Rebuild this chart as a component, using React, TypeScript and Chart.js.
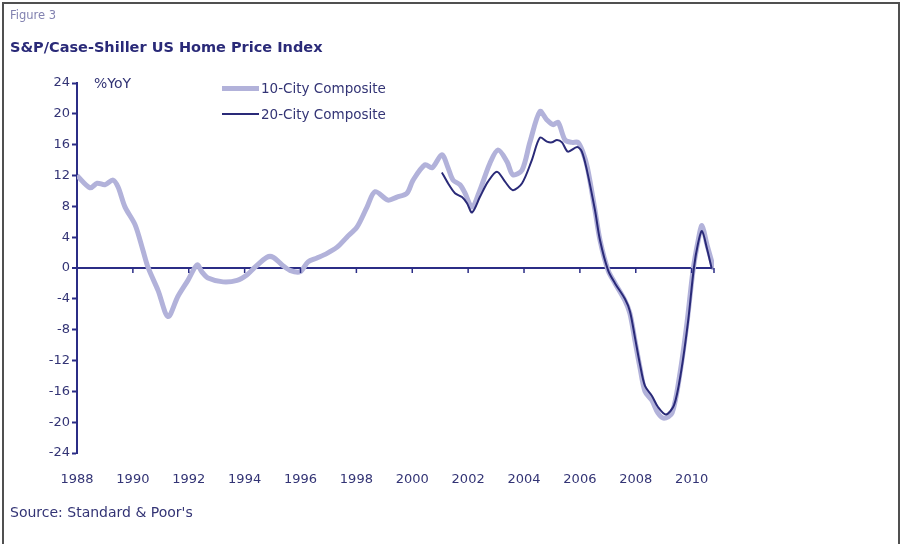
import React, { useEffect, useRef } from "react";
import { Chart, registerables } from "chart.js";

Chart.register(...registerables);

// ---- data ----
const seriesNames = ["10-City Composite", "20-City Composite"];

const years10 = [1988.0, 1988.47, 1988.72, 1989.0, 1989.29, 1989.47, 1989.72, 1990.08, 1990.36, 1990.54, 1990.9, 1991.26, 1991.61, 1991.97, 1992.3, 1992.47, 1992.69, 1993.23, 1993.73, 1994.08, 1994.37, 1994.8, 1995.02, 1995.34, 1995.62, 1995.98, 1996.27, 1996.59, 1996.95, 1997.31, 1997.66, 1998.02, 1998.38, 1998.67, 1999.13, 1999.45, 1999.81, 2000.03, 2000.46, 2000.71, 2001.06, 2001.28, 2001.46, 2001.71, 2001.89, 2002.14, 2002.42, 2002.78, 2003.07, 2003.39, 2003.6, 2003.93, 2004.21, 2004.57, 2004.82, 2005.04, 2005.22, 2005.47, 2005.72, 2005.93, 2006.11, 2006.27, 2006.54, 2006.72, 2007.01, 2007.26, 2007.61, 2007.79, 2007.97, 2008.15, 2008.33, 2008.58, 2008.79, 2009.01, 2009.3, 2009.58, 2009.83, 2010.05, 2010.23, 2010.37, 2010.55, 2010.8];
const vals10 = [12.0, 10.4, 11.0, 10.8, 11.4, 10.5, 7.9, 5.6, 2.3, 0.1, -2.9, -6.3, -3.7, -1.6, 0.4, -0.5, -1.3, -1.8, -1.6, -0.9, 0.1, 1.4, 1.4, 0.4, -0.3, -0.5, 0.8, 1.3, 1.9, 2.7, 4.0, 5.3, 7.9, 9.9, 8.8, 9.2, 9.7, 11.4, 13.4, 13.0, 14.7, 13.0, 11.4, 10.8, 9.7, 7.9, 10.1, 13.6, 15.3, 13.8, 12.1, 12.7, 16.3, 20.3, 19.2, 18.6, 18.9, 16.6, 16.3, 16.3, 15.0, 13.0, 7.5, 3.6, -0.3, -2.0, -4.2, -5.9, -9.4, -12.9, -16.0, -17.2, -18.8, -19.5, -18.8, -13.7, -7.2, -0.3, 3.5, 5.5, 3.0, -0.2];

const years20 = [2001.06, 2001.28, 2001.53, 2001.78, 2001.96, 2002.14, 2002.42, 2002.71, 2003.03, 2003.32, 2003.6, 2003.93, 2004.28, 2004.57, 2004.82, 2005.0, 2005.18, 2005.36, 2005.57, 2005.9, 2006.07, 2006.25, 2006.54, 2006.72, 2007.01, 2007.26, 2007.61, 2007.79, 2007.97, 2008.15, 2008.33, 2008.58, 2008.79, 2009.08, 2009.37, 2009.62, 2009.87, 2010.08, 2010.23, 2010.37, 2010.55, 2010.72];
const vals20 = [12.4, 11.0, 9.7, 9.2, 8.4, 7.2, 9.2, 11.2, 12.5, 11.2, 10.1, 11.0, 14.0, 16.9, 16.4, 16.3, 16.6, 16.3, 15.1, 15.7, 15.1, 12.7, 7.5, 3.6, -0.3, -2.0, -4.0, -5.6, -9.0, -12.5, -15.3, -16.6, -18.0, -19.0, -17.8, -13.5, -7.0, 0.0, 3.2, 4.8, 2.5, -0.1];

const xTickYears = [1988, 1990, 1992, 1994, 1996, 1998, 2000, 2002, 2004, 2006, 2008, 2010];
const yTickValues = [-24, -20, -16, -12, -8, -4, 0, 4, 8, 12, 16, 20, 24];
const xMin = 1988;
const xMax = 2010.8;

// ---- styles ----
const NAVY = "#2b2d86";
const TEXT = "#333475";
const LIGHT = "#b2b2da";
const DARK = "#2a2a78";
const FONT = "'DejaVu Sans', Verdana, sans-serif";

const zeroTicksPlugin = {
  id: "zeroTicks",
  afterDatasetsDraw(chart: any) {
    const { ctx, scales } = chart;
    const x = scales.x;
    const y = scales.y;
    const y0 = y.getPixelForValue(0);
    ctx.save();
    ctx.strokeStyle = NAVY;
    ctx.lineWidth = 1.5;
    [...xTickYears, xMax].forEach((v) => {
      const px = x.getPixelForValue(v);
      ctx.beginPath();
      ctx.moveTo(px, y0);
      ctx.lineTo(px, y0 + 5);
      ctx.stroke();
    });
    ctx.restore();
  },
};

export default function App() {
  const ref = useRef<HTMLCanvasElement | null>(null);

  useEffect(() => {
    if (!ref.current) return;
    const chart = new Chart(ref.current, {
      type: "line",
      data: {
        datasets: [
          {
            label: seriesNames[0],
            data: years10.map((t, i) => ({ x: t, y: vals10[i] })),
            borderColor: LIGHT,
            borderWidth: 5,
            pointRadius: 0,
            tension: 0.3,
            order: 1,
          },
          {
            label: seriesNames[1],
            data: years20.map((t, i) => ({ x: t, y: vals20[i] })),
            borderColor: DARK,
            borderWidth: 2,
            pointRadius: 0,
            tension: 0.3,
            order: 0,
          },
        ],
      },
      options: {
        responsive: false,
        animation: false,
        devicePixelRatio: 1,
        layout: { padding: { left: 0, top: 83, right: 188, bottom: 0 } },
        plugins: {
          legend: { display: false },
          tooltip: { enabled: false },
          title: { display: false },
        },
        scales: {
          x: {
            type: "linear",
            min: xMin,
            max: xMax,
            afterBuildTicks: (s: any) => {
              s.ticks = xTickYears.map((v) => ({ value: v }));
            },
            afterFit: (s: any) => {
              s.height = 91;
            },
            grid: { display: false, drawTicks: false },
            border: { display: false },
            ticks: {
              color: TEXT,
              font: { family: FONT, size: 13 },
              padding: 19,
              maxRotation: 0,
              autoSkip: false,
              callback: (v: any) => String(v),
            },
          },
          y: {
            type: "linear",
            min: -24,
            max: 24,
            afterBuildTicks: (s: any) => {
              s.ticks = yTickValues.map((v) => ({ value: v }));
            },
            afterFit: (s: any) => {
              s.width = 77;
            },
            border: { display: true, color: NAVY, width: 2 },
            grid: {
              display: true,
              drawOnChartArea: true,
              color: (c: any) => (c.tick && c.tick.value === 0 ? NAVY : "rgba(0,0,0,0)"),
              lineWidth: (c: any) => (c.tick && c.tick.value === 0 ? 2 : 1),
              tickColor: NAVY,
              tickLength: 5,
              tickWidth: 2,
            },
            ticks: {
              color: TEXT,
              font: { family: FONT, size: 13 },
              padding: 2,
              autoSkip: false,
            },
          },
        },
      },
      plugins: [zeroTicksPlugin],
    });
    return () => chart.destroy();
  }, []);

  const text = (style: React.CSSProperties, content: string) => (
    <div style={{ position: "absolute", whiteSpace: "nowrap", fontFamily: FONT, ...style }}>{content}</div>
  );

  const legendColors = [LIGHT, DARK];
  const legendWidths = [5, 2];
  const legendY = [88, 114];

  return (
    <div style={{ position: "absolute", left: 0, top: 0, width: 902, height: 544, background: "#fff", overflow: "hidden" }}>
      <canvas ref={ref} width={902} height={544} style={{ position: "absolute", left: 0, top: 0 }} />
      <div style={{ position: "absolute", left: 2, top: 2, width: 894, height: 560, border: "2px solid #505050", boxSizing: "content-box" }} />
      {text({ left: 10, top: 8, fontSize: 11.5, color: "#8282b0", lineHeight: "14px" }, "Figure 3")}
      {text({ left: 10, top: 38, fontSize: 14.5, fontWeight: "bold", color: "#2a2a78", lineHeight: "18px" }, "S&P/Case-Shiller US Home Price Index")}
      {text({ left: 94, top: 75, fontSize: 14, color: TEXT, lineHeight: "16px" }, "%YoY")}
      {seriesNames.map((name, i) => (
        <React.Fragment key={name}>
          <div
            style={{
              position: "absolute",
              left: 222,
              top: legendY[i] - legendWidths[i] / 2,
              width: 37,
              height: legendWidths[i],
              background: legendColors[i],
            }}
          />
          {text({ left: 261, top: legendY[i] - 8, fontSize: 13.5, color: TEXT, lineHeight: "16px" }, name)}
        </React.Fragment>
      ))}
      {text({ left: 10, top: 504, fontSize: 14, color: TEXT, lineHeight: "16px" }, "Source: Standard & Poor's")}
    </div>
  );
}
